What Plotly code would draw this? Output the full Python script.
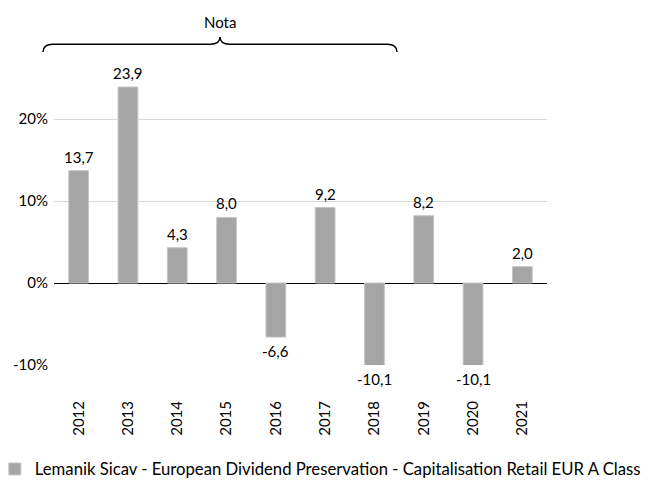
import plotly.graph_objects as go

years = ["2012", "2013", "2014", "2015", "2016", "2017", "2018", "2019", "2020", "2021"]
returns = [13.7, 23.9, 4.3, 8.0, -6.6, 9.2, -10.1, 8.2, -10.1, 2.0]
series_name = "Lemanik Sicav - European Dividend Preservation - Capitalisation Retail EUR A Class"
y_tickvals = [-10, 0, 10, 20]
y_ticktext = ["-10%", "0%", "10%", "20%"]
y_range = [-10, 30]
brace_label = "Nota"

FONT = "Lato"
fig = go.Figure()
fig.add_trace(go.Bar(
    x=years, y=returns, name=series_name,
    marker=dict(color="#a5a5a5", line=dict(color="#c4c4c4", width=1)),
    width=0.4, showlegend=True,
))

annotations = []
for i, v in enumerate(returns):
    lab = f"{v:.1f}".replace(".", ",")
    # labels of bars cut at the axis limit sit at the visible bar end
    ypos = min(max(v, y_range[0]), y_range[1])
    annotations.append(dict(
        x=i, y=ypos, xref="x", yref="y", text=lab, showarrow=False,
        yanchor="bottom" if v >= 0 else "top",
        yshift=3 if v >= 0 else -3,
        font=dict(family=FONT, size=15, color="#000000"),
    ))
annotations.append(dict(
    x=0.3367, y=1.046, xref="paper", yref="paper", text=brace_label,
    showarrow=False, font=dict(family=FONT, size=15, color="#000000"),
    xanchor="center", yanchor="middle",
))

# curly brace in paper coordinates
x0, xm, x1 = -0.0223, 0.3367, 0.6957
ye, ya, yt = 0.954, 0.978, 1.0
dx = 0.02
path = (f"M{x0},{ye} Q{x0},{ya} {x0+dx},{ya} L{xm-dx},{ya} Q{xm},{ya} {xm},{yt} "
        f"Q{xm},{ya} {xm+dx},{ya} L{x1-dx},{ya} Q{x1},{ya} {x1},{ye}")

fig.update_layout(
    width=660, height=486,
    margin=dict(l=46, r=121, t=29, b=129, autoexpand=False),
    paper_bgcolor="white", plot_bgcolor="white",
    font=dict(family=FONT, size=15, color="#000000"),
    annotations=annotations,
    shapes=[dict(type="path", path=path, xref="paper", yref="paper",
                 line=dict(color="#000000", width=1.5))],
    showlegend=True,
    legend=dict(orientation="h", x=-0.12, xanchor="left", y=-0.264, yanchor="top",
                font=dict(family=FONT, size=16.7, color="#000000"),
                bgcolor="rgba(0,0,0,0)"),
    bargap=0.6,
)
fig.update_xaxes(
    type="category", range=[-0.5, 9.5], tickangle=-90, showgrid=False, showline=False,
    ticks="", ticklen=0, ticklabelstandoff=32, tickfont=dict(family=FONT, size=15),
    automargin=False,
)
fig.update_yaxes(
    range=y_range, tickvals=y_tickvals, ticktext=y_ticktext,
    showgrid=True, gridcolor="#d9d9d9", gridwidth=1,
    zeroline=True, zerolinecolor="#000000", zerolinewidth=1,
    showline=False, ticks="", ticklen=0, ticklabelstandoff=5,
    tickfont=dict(family=FONT, size=15), automargin=False,
)
fig.write_html("out.html")
